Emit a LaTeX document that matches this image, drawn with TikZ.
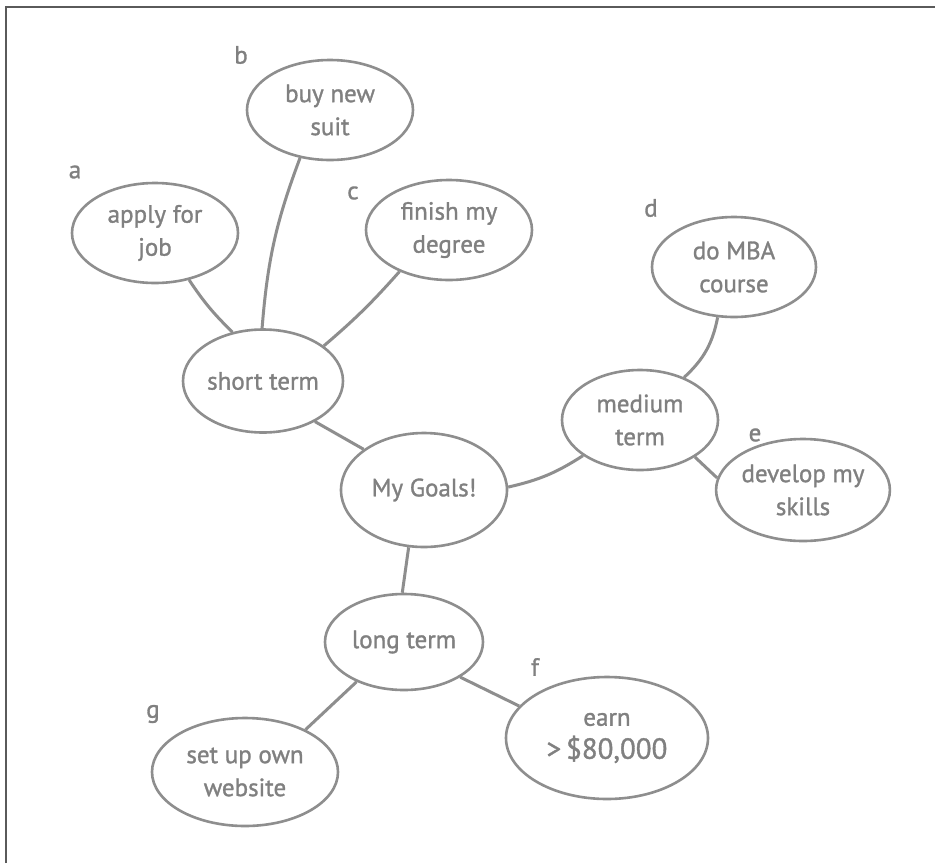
\documentclass[tikz,border=0pt]{standalone}
\usepackage{fontspec}
\setmainfont{PT Sans}[FakeBold=1.2]
\usetikzlibrary{shapes.geometric}
\definecolor{txt}{HTML}{808080}
\definecolor{ln}{HTML}{8E8E8E}
\definecolor{frame}{HTML}{5A5A5A}
\tikzset{
  goal/.style={ellipse, draw=ln, line width=2.6pt, fill=white, inner sep=0pt, align=center,
     text=txt, font=\fontsize{25}{33}\selectfont},
  link/.style={draw=ln, line width=3pt},
  letter/.style={text=txt, font=\fontsize{25}{28}\selectfont}
}
\begin{document}
\begin{tikzpicture}[x=1pt,y=-1pt]
\useasboundingbox (0,0) rectangle (935,863);
\fill[white] (0,0) rectangle (935,863);
\coordinate (fb) at (6,863);
\coordinate (fc) at (6,7);
\coordinate (fr) at (935,7);
\draw[frame, line width=2pt] (fb) -- (fc) -- (fr);

\node[goal, minimum width=166pt, minimum height=100pt] (ap) at (155,233) {apply for\\job};
\node[goal, minimum width=166pt, minimum height=100pt] (bs) at (330,110) {buy new\\suit};
\node[goal, minimum width=166pt, minimum height=100pt] (fd) at (449,230) {finish my\\degree};
\node[goal, minimum width=164pt, minimum height=100pt] (mba) at (734,267) {do MBA\\course};
\node[goal, minimum width=160pt, minimum height=103pt] (st) at (263,381) {short term};
\node[goal, minimum width=166pt, minimum height=114pt] (mg) at (424,490) {My Goals!};
\node[goal, minimum width=156pt, minimum height=100pt] (mt) at (640,420) {medium\\term};
\node[goal, minimum width=166pt, minimum height=102pt] (dev) at (803,490) {develop my\\skills};
\node[goal, minimum width=158pt, minimum height=96pt] (lt) at (404,642) {long term};
\node[goal, minimum width=202pt, minimum height=122pt] (earn) at (607,738) {earn\\{\fontsize{29}{30}\selectfont >\,\$80,000}};
\node[goal, minimum width=186pt, minimum height=108pt] (web) at (245,772) {set up own\\website};

\node[letter] (la) at (75,172) {a};
\node[letter] (lb) at (241,55) {b};
\node[letter] (lc) at (353,193) {c};
\node[letter] (ld) at (651,208) {d};
\node[letter] (le) at (755,435) {e};
\node[letter] (lf) at (535,667) {f};
\node[letter] (lg) at (153,714) {g};

\draw[link] (st.122) to[bend left=6] (ap.-54);
\draw[link] (st.91) to[bend left=8] (bs.-122);
\draw[link] (st.30) to[bend right=4] (fd.-140);
\draw[link] (st.-38) -- (mg.146);
\draw[link] (mg.2) to[bend right=10] (mt.-148);
\draw[link] (mt.44) to[bend right=18] (mba.-108);
\draw[link] (mt.-34) -- (dev.172);
\draw[link] (mg.-105) -- (lt.92);
\draw[link] (lt.-32) -- (earn.160);
\draw[link] (lt.-140) -- (web.35);
\end{tikzpicture}
\end{document}
